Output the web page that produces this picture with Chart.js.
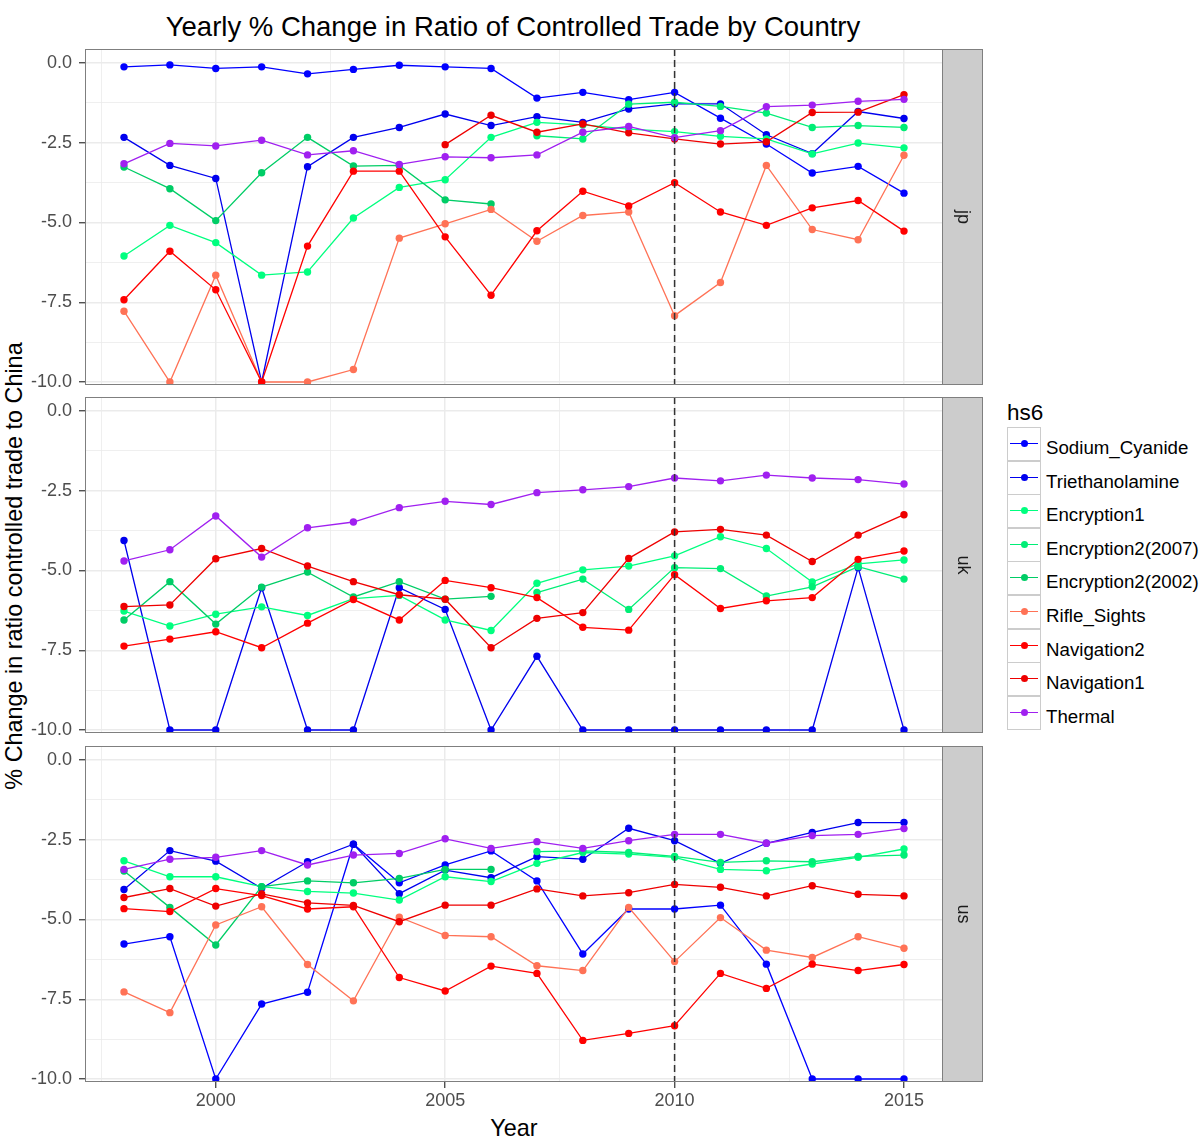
<!DOCTYPE html>
<html>
<head>
<meta charset="utf-8">
<title>Yearly % Change in Ratio of Controlled Trade by Country</title>
<script src="https://cdn.jsdelivr.net/npm/chart.js@4.4.1/dist/chart.umd.min.js"></script>
<style>
  html, body { margin: 0; padding: 0; background: #ffffff; }
  body { position: relative; width: 1201px; height: 1139px; overflow: hidden;
         font-family: "Liberation Sans", Arial, sans-serif; }
  canvas.panel { position: absolute; left: 0; }
  .txt { position: absolute; white-space: nowrap; line-height: 1; color: #000; }
  #legend { position: absolute; left: 1007px; top: 427px; }
  .row { position: absolute; left: 0; height: 34px; width: 200px; }
  .key { position: absolute; left: 0; top: 0; width: 34px; height: 34px; box-sizing: border-box;
         border: 1px solid #cccccc; background: #fff; }
  .key .ln { position: absolute; left: 2px; right: 2px; top: 15px; height: 1.4px; }
  .key .pt { position: absolute; left: 13px; top: 12.2px; width: 7px; height: 7px; border-radius: 50%; }
  .lab { position: absolute; left: 39px; top: 0; height: 34px; line-height: 34px; font-size: 18.7px;
         padding-top: 4px; color: #000; white-space: nowrap; }
</style>
</head>
<body>

<div class="txt" id="title" style="font-size:27.5px; left:513px; top:13px; transform:translateX(-50%);">Yearly % Change in Ratio of Controlled Trade by Country</div>
<div class="txt" id="ytitle" style="font-size:23.4px; left:15px; top:566px; transform:translate(-50%,-50%) rotate(-90deg);">% Change in ratio controlled trade to China</div>
<div class="txt" id="xtitle" style="font-size:23.4px; left:514px; top:1117px; transform:translateX(-50%);">Year</div>
<div class="txt" id="legtitle" style="font-size:22.5px; left:1007px; top:402px;">hs6</div>
<div id="legend"></div>

<canvas class="panel" id="panel-jp"></canvas>
<canvas class="panel" id="panel-uk"></canvas>
<canvas class="panel" id="panel-us"></canvas>

<script>
// ---- data ---------------------------------------------------------------
const N = null;
const years = [1998, 1999, 2000, 2001, 2002, 2003, 2004, 2005, 2006,
               2007, 2008, 2009, 2010, 2011, 2012, 2013, 2014, 2015];

const seriesNames = ['Sodium_Cyanide', 'Triethanolamine', 'Encryption1', 'Encryption2(2007)',
                     'Encryption2(2002)', 'Rifle_Sights', 'Navigation2', 'Navigation1', 'Thermal'];

const countries = ['jp', 'uk', 'us'];

// Japan
const jpSodiumCyanide   = [-0.12, -0.06, -0.17, -0.12, -0.34, -0.2, -0.07, -0.12, -0.17, -1.1, -0.92, -1.15, -0.92, -1.73, -2.54, -3.45, -3.24, -4.08];
const jpTriethanolamine = [-2.33, -3.21, -3.62, -10, -3.25, -2.33, -2.02, -1.6, -1.96, -1.68, -1.86, -1.44, -1.28, -1.28, -2.25, -2.84, -1.52, -1.74];
const jpEncryption1     = [-6.05, -5.09, -5.63, -6.65, -6.55, -4.86, -3.9, -3.66, -2.33, -1.86, -1.94, -2.07, -2.15, -2.3, -2.38, -2.85, -2.51, -2.66];
const jpEncryption2007  = [N, N, N, N, N, N, N, N, N, -2.28, -2.38, -1.29, -1.23, -1.36, -1.57, -2.02, -1.96, -2.02];
const jpEncryption2002  = [-3.26, -3.94, -4.94, -3.44, -2.33, -3.23, -3.21, -4.29, -4.42, N, N, N, N, N, N, N, N, N];
const jpRifleSights     = [-7.78, -10, -6.65, -10, -10, -9.61, -5.49, -5.04, -4.59, -5.59, -4.78, -4.67, -7.92, -6.88, -3.21, -5.22, -5.54, -2.89];
const jpNavigation2     = [-7.42, -5.9, -7.11, -10, -5.74, -3.39, -3.39, -5.45, -7.28, -5.26, -4.02, -4.48, -3.75, -4.67, -5.09, -4.54, -4.31, -5.27];
const jpNavigation1     = [N, N, N, N, N, N, N, -2.56, -1.64, -2.17, -1.91, -2.19, -2.38, -2.54, -2.47, -1.55, -1.54, -0.99];
const jpThermal         = [-3.16, -2.52, -2.6, -2.42, -2.88, -2.75, -3.18, -2.94, -2.97, -2.88, -2.17, -1.99, -2.34, -2.12, -1.37, -1.32, -1.2, -1.14];

// United Kingdom
const ukSodiumCyanide   = [N, N, N, N, N, N, N, N, N, N, N, N, N, N, N, N, N, N];
const ukTriethanolamine = [-4.06, -10, -10, -5.54, -10, -10, -5.54, -6.22, -10, -7.69, -10, -10, -10, -10, -10, -10, -4.91, -10];
const ukEncryption1     = [-6.27, -6.74, -6.37, -6.14, -6.41, -5.88, -5.78, -6.55, -6.88, -5.4, -4.98, -4.86, -4.54, -3.94, -4.31, -5.36, -4.79, -4.67];
const ukEncryption2007  = [N, N, N, N, N, N, N, N, N, -5.69, -5.27, -6.22, -4.91, -4.94, -5.8, -5.51, -4.88, -5.27];
const ukEncryption2002  = [-6.55, -5.35, -6.68, -5.52, -5.05, -5.83, -5.35, -5.9, -5.81, N, N, N, N, N, N, N, N, N];
const ukRifleSights     = [N, N, N, N, N, N, N, N, N, N, N, N, N, N, N, N, N, N];
const ukNavigation2     = [-7.37, -7.15, -6.92, -7.42, -6.65, -5.91, -6.55, -5.31, -5.54, -5.85, -6.78, -6.87, -5.13, -6.19, -5.95, -5.85, -4.65, -4.39];
const ukNavigation1     = [-6.13, -6.08, -4.63, -4.31, -4.86, -5.35, -5.76, -5.9, -7.42, -6.5, -6.32, -4.62, -3.79, -3.71, -3.89, -4.72, -3.89, -3.25];
const ukThermal         = [-4.7, -4.35, -3.29, -4.58, -3.66, -3.48, -3.03, -2.83, -2.93, -2.56, -2.47, -2.37, -2.1, -2.19, -2.01, -2.1, -2.15, -2.29];

// United States
const usSodiumCyanide   = [-5.77, -5.54, -10, -7.65, -7.28, -2.64, -3.85, -3.29, -2.85, -3.79, -6.08, -4.67, -4.67, -4.55, -6.4, -10, -10, -10];
const usTriethanolamine = [-4.06, -2.84, -3.17, -4.02, -3.19, -2.64, -4.19, -3.45, -3.69, -3.03, -3.11, -2.14, -2.53, -3.24, -2.61, -2.27, -1.96, -1.96];
const usEncryption1     = [-3.16, -3.66, -3.66, -3.97, -4.12, -4.17, -4.39, -3.66, -3.81, -3.24, -2.9, -2.95, -3.05, -3.43, -3.47, -3.26, -3.05, -2.79];
const usEncryption2007  = [N, N, N, N, N, N, N, N, N, -2.87, -2.85, -2.9, -3.02, -3.21, -3.16, -3.19, -3.02, -2.98];
const usEncryption2002  = [-3.48, -4.62, -5.8, -3.97, -3.79, -3.85, -3.71, -3.43, -3.43, N, N, N, N, N, N, N, N, N];
const usRifleSights     = [-7.27, -7.92, -5.17, -4.6, -6.41, -7.55, -4.93, -5.5, -5.54, -6.45, -6.6, -4.62, -6.32, -4.94, -5.96, -6.19, -5.54, -5.9];
const usNavigation2     = [-4.66, -4.75, -4.03, -4.25, -4.67, -4.6, -6.82, -7.24, -6.46, -6.69, -8.79, -8.57, -8.33, -6.69, -7.16, -6.4, -6.6, -6.41];
const usNavigation1     = [-4.31, -4.03, -4.58, -4.2, -4.48, -4.56, -5.07, -4.55, -4.55, -4.04, -4.26, -4.16, -3.9, -3.99, -4.26, -3.94, -4.21, -4.26];
const usThermal         = [-3.43, -3.11, -3.05, -2.84, -3.29, -2.98, -2.93, -2.47, -2.77, -2.56, -2.77, -2.53, -2.33, -2.33, -2.61, -2.37, -2.33, -2.15];

// axis ticks
const xTickValues = [1997.5, 2000, 2002.5, 2005, 2007.5, 2010, 2012.5, 2015];
const xMajorTicks = [2000, 2005, 2010, 2015];
const yTickValues = [-10, -8.75, -7.5, -6.25, -5, -3.75, -2.5, -1.25, 0];
const yMajorTicks = [-10, -7.5, -5, -2.5, 0];
const referenceYear = 2010;

// ---- styling --------------------------------------------------------------
const seriesColors = ['#0000FF', '#0000EE', '#00FF7F', '#00EE76', '#00CD66',
                      '#FF7256', '#FF0000', '#EE0000', '#A020F0'];

const FONT = '"Liberation Sans", Arial, sans-serif';
const AREA_LEFT = 85, AREA_RIGHT = 943, PANEL_H = 336, PAD_TOP = 19, CANVAS_W = 1000;
const panelTops = [49, 397, 746];
const X_MIN = 1997.15, X_MAX = 2015.85, Y_MIN = -10.094, Y_MAX = 0.439;
const LEGEND_ROW = 33.6;

const panelSeries = {
  jp: [jpSodiumCyanide, jpTriethanolamine, jpEncryption1, jpEncryption2007, jpEncryption2002,
       jpRifleSights, jpNavigation2, jpNavigation1, jpThermal],
  uk: [ukSodiumCyanide, ukTriethanolamine, ukEncryption1, ukEncryption2007, ukEncryption2002,
       ukRifleSights, ukNavigation2, ukNavigation1, ukThermal],
  us: [usSodiumCyanide, usTriethanolamine, usEncryption1, usEncryption2007, usEncryption2002,
       usRifleSights, usNavigation2, usNavigation1, usThermal]
};

const isIn = (list, v) => list.some(m => Math.abs(m - v) < 1e-6);

// Reference line, panel frame and the facet strip on the right
const panelDecor = {
  id: 'panelDecor',
  afterDatasetsDraw(chart, args, opts) {
    const { ctx, chartArea: a, scales } = chart;
    ctx.save();
    // dashed vertical line
    const px = scales.x.getPixelForValue(referenceYear);
    ctx.strokeStyle = '#333333';
    ctx.lineWidth = 1.5;
    ctx.setLineDash([7, 4]);
    ctx.beginPath();
    ctx.moveTo(px, a.top);
    ctx.lineTo(px, a.bottom);
    ctx.stroke();
    ctx.setLineDash([]);
    // panel border
    ctx.strokeStyle = '#7f7f7f';
    ctx.lineWidth = 1;
    ctx.strokeRect(a.left + 0.5, a.top + 0.5, a.right - a.left - 1, a.bottom - a.top - 1);
    // strip
    const sw = 40;
    ctx.fillStyle = '#cccccc';
    ctx.fillRect(a.right, a.top, sw, a.bottom - a.top);
    ctx.strokeRect(a.right - 0.5, a.top + 0.5, sw, a.bottom - a.top - 1);
    ctx.translate(a.right + sw / 2, (a.top + a.bottom) / 2);
    ctx.rotate(Math.PI / 2);
    ctx.fillStyle = '#1a1a1a';
    ctx.font = '18px ' + FONT;
    ctx.textAlign = 'center';
    ctx.textBaseline = 'middle';
    ctx.fillText(opts.label, 0, 0);
    ctx.restore();
  }
};

function buildPanel(country, idx) {
  const showX = idx === countries.length - 1;
  const canvas = document.getElementById('panel-' + country);
  const top = panelTops[idx] - PAD_TOP;
  const height = showX ? 1139 - top : PANEL_H + PAD_TOP + 20;
  const xAxisH = showX ? 30 : 0;
  canvas.width = CANVAS_W;
  canvas.height = height;
  canvas.style.top = top + 'px';
  canvas.style.width = CANVAS_W + 'px';
  canvas.style.height = height + 'px';

  const datasets = seriesNames.map((name, i) => ({
    label: name,
    data: years.map((yr, k) => ({ x: yr, y: panelSeries[country][i][k] })),
    borderColor: seriesColors[i],
    backgroundColor: seriesColors[i],
    pointBackgroundColor: seriesColors[i],
    pointBorderWidth: 0,
    pointRadius: 3.7,
    borderWidth: 1.3,
    tension: 0,
    spanGaps: false,
    order: seriesNames.length - i
  }));

  return new Chart(canvas, {
    type: 'line',
    data: { datasets },
    options: {
      responsive: false,
      animation: false,
      events: [],
      devicePixelRatio: 1,
      layout: { padding: { top: PAD_TOP, left: 0, right: CANVAS_W - AREA_RIGHT,
                           bottom: height - PAD_TOP - PANEL_H - xAxisH } },
      plugins: {
        legend: { display: false },
        tooltip: { enabled: false },
        panelDecor: { label: country }
      },
      scales: {
        x: {
          type: 'linear',
          min: X_MIN,
          max: X_MAX,
          afterBuildTicks: s => { s.ticks = xTickValues.map(v => ({ value: v })); },
          afterFit: s => { s.height = xAxisH; },
          border: { display: false },
          grid: {
            color: '#ebebeb',
            lineWidth: c => isIn(xMajorTicks, c.tick.value) ? 1.5 : 0.8,
            drawTicks: showX,
            tickLength: 6,
            tickWidth: 1.2,
            tickColor: c => isIn(xMajorTicks, c.tick.value) ? '#333333' : 'rgba(0,0,0,0)'
          },
          ticks: {
            display: showX,
            autoSkip: false,
            maxRotation: 0,
            padding: 2,
            color: '#4d4d4d',
            font: { family: FONT, size: 18 },
            callback: v => isIn(xMajorTicks, v) ? String(Math.round(v)) : ''
          }
        },
        y: {
          type: 'linear',
          min: Y_MIN,
          max: Y_MAX,
          afterBuildTicks: s => { s.ticks = yTickValues.map(v => ({ value: v })); },
          afterFit: s => { s.width = AREA_LEFT; },
          border: { display: false },
          grid: {
            color: '#ebebeb',
            lineWidth: c => isIn(yMajorTicks, c.tick.value) ? 1.5 : 0.8,
            drawTicks: true,
            tickLength: 6,
            tickWidth: 1.2,
            tickColor: c => isIn(yMajorTicks, c.tick.value) ? '#333333' : 'rgba(0,0,0,0)'
          },
          ticks: {
            autoSkip: false,
            padding: 7,
            color: '#4d4d4d',
            font: { family: FONT, size: 18 },
            callback: v => isIn(yMajorTicks, v) ? v.toFixed(1) : ''
          }
        }
      }
    },
    plugins: [panelDecor]
  });
}

countries.forEach((c, i) => buildPanel(c, i));

// legend keys, each row snapped to whole pixels
const legend = document.getElementById('legend');
seriesNames.forEach((name, i) => {
  const row = document.createElement('div');
  row.className = 'row';
  row.style.top = Math.round(i * LEGEND_ROW) + 'px';
  row.innerHTML = '<div class="key"><div class="ln" style="background:' + seriesColors[i] +
    '"></div><div class="pt" style="background:' + seriesColors[i] + '"></div></div>' +
    '<div class="lab"></div>';
  row.querySelector('.lab').textContent = name;
  legend.appendChild(row);
});
</script>
</body>
</html>
